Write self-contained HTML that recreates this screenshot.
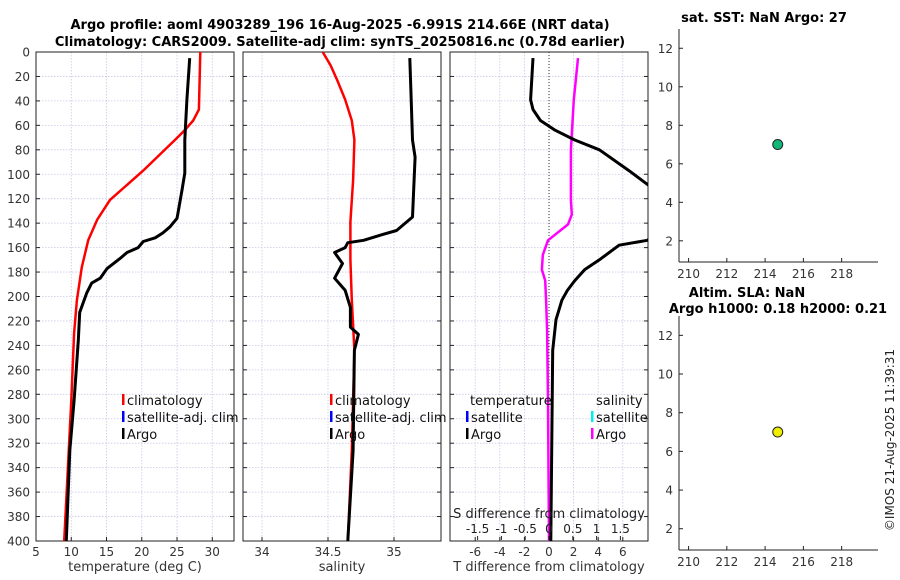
<!DOCTYPE html>
<html><head><meta charset="utf-8">
<style>
html,body{margin:0;padding:0;background:#fff;width:900px;height:580px;overflow:hidden}
svg{display:block;font-family:"DejaVu Sans","Liberation Sans",sans-serif}
</style></head>
<body>
<svg id="fig" width="900" height="580" xmlns="http://www.w3.org/2000/svg"></svg>
<script>
// ---- data ----
const argoTDepth=[5,39,72,99,113,133,136,143,148,152,155,160,164,169,177,185,189,197,213,236,285,326,400];
const argoT=[26.8,26.4,26.1,26.1,25.7,25.1,25.0,24.0,23.0,21.9,20.2,19.5,17.9,16.9,15.1,14.1,12.9,12.2,11.2,11.0,10.4,9.8,9.3];
const climTDepth=[0,47,56,64,72,97,121,137,154,176,203,230,285,400];
const climT=[28.3,28.1,27.3,26.1,24.7,20.2,15.5,13.7,12.4,11.5,10.8,10.4,10.0,9.0];
const argoSDepth=[5,39,72,86,135,146,150,154,156,160,164,173,185,195,209,225,231,244,326,400];
const argoS=[35.12,35.13,35.14,35.16,35.14,35.02,34.89,34.77,34.65,34.63,34.55,34.61,34.55,34.63,34.67,34.67,34.73,34.70,34.69,34.65];
const climSDepth=[0,11,23,39,56,72,105,139,170,203,244,326,400];
const climS=[34.46,34.52,34.57,34.63,34.68,34.70,34.69,34.67,34.67,34.68,34.70,34.68,34.65];
const dTDepth=[5,39,47,56,64,72,80,97,109,121,140,146,154,158,170,178,187,195,203,219,244,400];
const dT=[-1.3,-1.5,-1.3,-0.7,0.5,2.1,4.1,6.5,8.1,10,11,9,8.0,5.7,4.1,2.9,2.1,1.5,1.05,0.57,0.3,0.15];
const dSDepth=[5,39,80,121,133,141,154,166,178,187,203,228,285,400];
const dS=[0.61,0.52,0.46,0.46,0.48,0.40,-0.02,-0.13,-0.15,-0.08,-0.06,-0.04,-0.02,0];
const depthTicks=[0,20,40,60,80,100,120,140,160,180,200,220,240,260,280,300,320,340,360,380,400];
const tTicks=[5,10,15,20,25,30];
const sTicks=[34,34.5,35];
const dTTicks=[-6,-4,-2,0,2,4,6];
const dSTickLabels=["-1.5","-1","-0.5","0","0.5","1","1.5"];
const dSTicks=[-1.5,-1,-0.5,0,0.5,1,1.5];
const mapX=[214.66], sstY=[7], slaY=[7];
const mapXTicks=[210,212,214,216,218];
const mapYTicks=[2,4,6,8,10,12];

const NS="http://www.w3.org/2000/svg";
const svg=document.getElementById('fig');
function el(tag,attrs,parent,text){const e=document.createElementNS(NS,tag);for(const k in attrs)e.setAttribute(k,attrs[k]);if(text!==undefined)e.textContent=text;(parent||svg).appendChild(e);return e;}

const Y0=52,Y1=541;
const yD=d=>Y0+(d/400)*(Y1-Y0);
const panels=[
 {x0:36,x1:234,min:5,max:33.08,ticks:tTicks,label:'temperature (deg C)',name:'temperature-panel'},
 {x0:243,x1:441,min:33.856,max:35.356,ticks:sTicks,label:'salinity',name:'salinity-panel'},
 {x0:450,x1:648,min:-8.05,max:8.05,ticks:dTTicks,label:'T difference from climatology',name:'difference-panel'}
];
panels.forEach((p,i)=>{
 p.fx=v=>p.x0+(v-p.min)/(p.max-p.min)*(p.x1-p.x0);
 const g=el('g',{},svg);
 
 
 const cid='clip'+i;
 const cp=el('clipPath',{id:cid},g);el('rect',{x:p.x0,y:Y0,width:p.x1-p.x0,height:Y1-Y0},cp);
 p.clip=cid;p.g=g;
 depthTicks.forEach(d=>{if(d>0&&d<400){const l=el('line',{x1:p.x0,x2:p.x1,y1:yD(d),y2:yD(d),stroke:'#c8c8e8','stroke-width':0.8,'stroke-dasharray':'1.5,1.5'},g);}});
 p.ticks.forEach(v=>{const x=p.fx(v);if(x>p.x0+1&&x<p.x1-1){const l=el('line',{x1:x,x2:x,y1:Y0,y2:Y1,stroke:'#c8c8e8','stroke-width':0.8,'stroke-dasharray':'1.5,1.5'},g);}});
 const fr=el('rect',{x:p.x0,y:Y0,width:p.x1-p.x0,height:Y1-Y0,fill:'none',stroke:'#222','stroke-width':1},g);
 
 depthTicks.forEach(d=>{el('line',{x1:p.x0,x2:p.x0+4,y1:yD(d),y2:yD(d),stroke:'#222'},g);el('line',{x1:p.x1-4,x2:p.x1,y1:yD(d),y2:yD(d),stroke:'#222'},g);});
 p.ticks.forEach(v=>{const x=p.fx(v);el('line',{x1:x,x2:x,y1:Y1,y2:Y1-4,stroke:'#222'},g);
  const t=el('text',{x:x,y:Y1+15,'font-size':12,'text-anchor':'middle',fill:'#333'},g,String(v));
  });
 const xl=el('text',{x:(p.x0+p.x1)/2,y:571,'font-size':13,'text-anchor':'middle',fill:'#333'},g,p.label);
 
});
depthTicks.forEach(d=>{const t=el('text',{x:30,y:yD(d)+4.5,'font-size':12,'text-anchor':'end',fill:'#333'},svg,String(d));
 });

function line(p,fx,vals,depths,color,w,name){
 const pts=vals.map((v,i)=>fx(v).toFixed(1)+','+yD(depths[i]).toFixed(1)).join(' ');
 const l=el('polyline',{points:pts,fill:'none',stroke:color,'stroke-width':w,'stroke-linejoin':'round','clip-path':'url(#'+p.clip+')'},p.g);
 
}
const P=panels;
line(P[0],P[0].fx,climT,climTDepth,'#f00',2.5,'climatology-temperature-line');
line(P[0],P[0].fx,argoT,argoTDepth,'#000',3,'argo-temperature-line');
line(P[1],P[1].fx,climS,climSDepth,'#f00',2.5,'climatology-salinity-line');
line(P[1],P[1].fx,argoS,argoSDepth,'#000',3,'argo-salinity-line');
// diff panel
const zl=el('line',{x1:P[2].fx(0),x2:P[2].fx(0),y1:Y0,y2:Y1,stroke:'#333','stroke-width':1,'stroke-dasharray':'1,2'},P[2].g);

const sMin=-2.08,sMax=2.08;const fS=v=>P[2].x0+(v-sMin)/(sMax-sMin)*(P[2].x1-P[2].x0);
line(P[2],fS,dS,dSDepth,'#f0f',2.5,'argo-salinity-difference-line');
line(P[2],P[2].fx,dT,dTDepth,'#000',3,'argo-temperature-difference-line');
dSTicks.forEach((v,i)=>{const x=fS(v);el('line',{x1:x,x2:x,y1:Y1-1,y2:Y1-5,stroke:'#222'},P[2].g);
 const t=el('text',{x:x,y:533,'font-size':12,'text-anchor':'middle',fill:'#222'},P[2].g,dSTickLabels[i]);
 });
const st=el('text',{x:549,y:518,'font-size':13,'text-anchor':'middle',fill:'#222'},P[2].g,'S difference from climatology');


// legends
function legend(x,y,color,label,name){
 const g=el('g',{},svg);
 el('rect',{x:x,y:y-6,width:2.5,height:11,fill:color},g);
 el('text',{x:x+5,y:y+5,'font-size':13,fill:'#111'},g,label);
}
[[122,'climatology','#f00','legend-climatology'],[122,'satellite-adj. clim','#00f','legend-satellite-adj-clim'],[122,'Argo','#000','legend-argo']].forEach((e,i)=>legend(e[0],400+i*17,e[2],e[1],e[3]+'-t'));
[[330,'climatology','#f00','legend-climatology'],[330,'satellite-adj. clim','#00f','legend-satellite-adj-clim'],[330,'Argo','#000','legend-argo']].forEach((e,i)=>legend(e[0],400+i*17,e[2],e[1],e[3]+'-s'));
let h=el('text',{x:470,y:405,'font-size':13,fill:'#111'},svg,'temperature');
h=el('text',{x:596,y:405,'font-size':13,fill:'#111'},svg,'salinity');
legend(466,417,'#00f','satellite','legend-t-satellite');legend(466,434,'#000','Argo','legend-t-argo');
legend(591,417,'#0ee','satellite','legend-s-satellite');legend(591,434,'#f0f','Argo','legend-s-argo');

// titles
h=el('text',{x:340,y:29,'font-size':13,'font-weight':'bold','text-anchor':'middle',fill:'#000'},svg,'Argo profile: aoml 4903289_196 16-Aug-2025 -6.991S 214.66E (NRT data)');

h=el('text',{x:340,y:46,'font-size':13,'font-weight':'bold','text-anchor':'middle',fill:'#000'},svg,'Climatology: CARS2009. Satellite-adj clim: synTS_20250816.nc (0.78d earlier)');


// map panels
function mapPanel(top,bottom,yv,color,titles,name){
 const x0=679,x1=878,xmin=209.5,xmax=219.9,ymin=0.9,ymax=13;
 const fx=v=>x0+(v-xmin)/(xmax-xmin)*(x1-x0);
 const fy=v=>bottom-(v-ymin)/(ymax-ymin)*(bottom-top);
 const g=el('g',{},svg);
 el('line',{x1:x0,x2:x0,y1:top,y2:bottom,stroke:'#222'},g);
 el('line',{x1:x0,x2:x1,y1:bottom,y2:bottom,stroke:'#222'},g);
 mapYTicks.forEach(v=>{el('line',{x1:x0,x2:x0+4,y1:fy(v),y2:fy(v),stroke:'#222'},g);
  const t=el('text',{x:x0-6,y:fy(v)+4.5,'font-size':12,'text-anchor':'end',fill:'#333'},g,String(v));
  });
 mapXTicks.forEach(v=>{el('line',{x1:fx(v),x2:fx(v),y1:bottom,y2:bottom-4,stroke:'#222'},g);
  const t=el('text',{x:fx(v),y:bottom+16,'font-size':12,'text-anchor':'middle',fill:'#333'},g,String(v));
  });
 mapX.forEach((v,i)=>{const c=el('circle',{cx:fx(v),cy:fy(yv[i]),r:5,fill:color,stroke:'#222','stroke-width':1},g);
  });
 titles.forEach(tt=>{const t=el('text',{x:tt[0],y:tt[1],'font-size':13,'font-weight':'bold','text-anchor':'middle',fill:'#000'},g,tt[2]);
  });
}
mapPanel(29,262,sstY,'#10b878',[[764,22,'sat. SST: NaN Argo: 27']],'sst-map-panel');
mapPanel(316,550,slaY,'#eeee00',[[747,297,'Altim. SLA: NaN'],[778,313,'Argo h1000: 0.18 h2000: 0.21']],'sla-map-panel');
h=el('text',{x:0,y:0,'font-size':12,'text-anchor':'middle',fill:'#222',transform:'translate(894,440) rotate(-90)'},svg,'©IMOS 21-Aug-2025 11:39:31');

</script>
</body></html>
